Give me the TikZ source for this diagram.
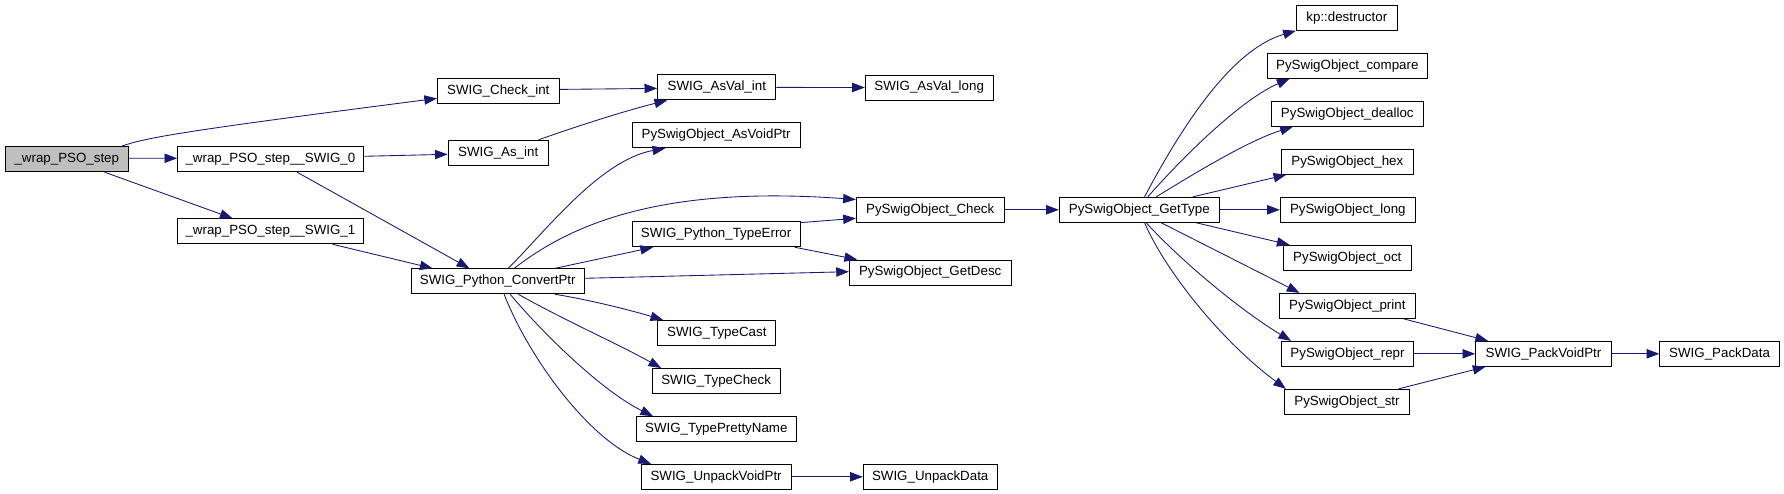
\documentclass[tikz,border=0pt]{standalone}
\usepackage{fontspec}
\setmainfont{Liberation Sans}
\usetikzlibrary{arrows.meta,calc}
\definecolor{edgeblue}{RGB}{25,25,112}
\definecolor{mainfill}{RGB}{191,191,191}
\tikzset{
  bx/.style={draw=black, line width=0.7pt, minimum height=18.75pt, inner sep=0pt, anchor=center, font=\fontsize{10pt}{12pt}\selectfont},
  bw/.style={minimum width=#1*0.75pt},
  edge/.style={draw=edgeblue, line width=0.65pt, -{Triangle[length=9.5pt,width=7pt]}, fill=none}
}
\begin{document}
\begin{tikzpicture}[x=0.75pt,y=-0.75pt]
\useasboundingbox (0,0) rectangle (1784,493);
% nodes
\node[bx,bw=122.8,fill=mainfill] (main) at (66.8,159.2) {\_wrap\_PSO\_step};
\node[bx,bw=185.5] (s0) at (270.4,159.3) {\_wrap\_PSO\_step\_\_SWIG\_0};
\node[bx,bw=185.5] (s1) at (270.4,231.3) {\_wrap\_PSO\_step\_\_SWIG\_1};
\node[bx,bw=121.7] (checkint) at (498.3,91.4) {SWIG\_Check\_int};
\node[bx,bw=100.2] (asint) at (498.2,152.8) {SWIG\_As\_int};
\node[bx,bw=118.3] (asvalint) at (716.8,87.4) {SWIG\_AsVal\_int};
\node[bx,bw=127.8] (asvallong) at (929.2,87.5) {SWIG\_AsVal\_long};
\node[bx,bw=167.8] (asvoidptr) at (716.1,135.3) {PySwigObject\_AsVoidPtr};
\node[bx,bw=147.8] (check) at (930.2,209.8) {PySwigObject\_Check};
\node[bx,bw=167.8] (typeerror) at (716.1,234.3) {SWIG\_Python\_TypeError};
\node[bx,bw=161.6] (getdesc) at (930.2,272.5) {PySwigObject\_GetDesc};
\node[bx,bw=172.7] (convertptr) at (497.8,281.3) {SWIG\_Python\_ConvertPtr};
\node[bx,bw=118.3] (typecast) at (716.8,333) {SWIG\_TypeCast};
\node[bx,bw=127.8] (typecheck) at (716.1,381) {SWIG\_TypeCheck};
\node[bx,bw=160] (prettyname) at (716.3,429.2) {SWIG\_TypePrettyName};
\node[bx,bw=149.8] (unpackvoidptr) at (716.1,476.8) {SWIG\_UnpackVoidPtr};
\node[bx,bw=133.8] (unpackdata) at (930.2,476.8) {SWIG\_UnpackData};
\node[bx,bw=160] (gettype) at (1139.3,209.8) {PySwigObject\_GetType};
\node[bx,bw=101] (destructor) at (1346.8,17.8) {kp::destructor};
\node[bx,bw=160] (compare) at (1347.3,65.8) {PySwigObject\_compare};
\node[bx,bw=152] (dealloc) at (1347.3,113.8) {PySwigObject\_dealloc};
\node[bx,bw=132] (hex) at (1347.3,161.8) {PySwigObject\_hex};
\node[bx,bw=135] (long) at (1347.8,209.8) {PySwigObject\_long};
\node[bx,bw=128] (oct) at (1347.3,257.8) {PySwigObject\_oct};
\node[bx,bw=135.3] (print) at (1347.3,305.8) {PySwigObject\_print};
\node[bx,bw=132] (repr) at (1347.5,353.8) {PySwigObject\_repr};
\node[bx,bw=125.3] (str) at (1347,401.8) {PySwigObject\_str};
\node[bx,bw=135.7] (packvoidptr) at (1543.5,353.8) {SWIG\_PackVoidPtr};
\node[bx,bw=119.6] (packdata) at (1719.6,353.8) {SWIG\_PackData};
% edges
\draw[edge] ($(main.north west)+(116.6,0)$) .. controls (145,138) and (175,132) .. ($(checkint.west)+(0,7)$);
\draw[edge] ($(main.east)+(0,-1)$) -- ($(s0.west)+(0,-1)$);
\draw[edge] ($(main.south west)+(99.6,0)$) -- ($(s1.north west)+(55.4,0)$);
\draw[edge] ($(s0.east)+(0,-3)$) -- ($(asint.west)+(0,1.5)$);
\draw[edge] ($(s0.south west)+(120,0)$) -- ($(convertptr.north west)+(58.4,0)$);
\draw[edge] ($(s1.south west)+(155.4,0)$) -- ($(convertptr.north west)+(21.6,0)$);
\draw[edge] ($(checkint.east)+(0,-2)$) -- ($(asvalint.west)+(0,1)$);
\draw[edge] ($(asint.north west)+(91,0)$) .. controls (560,132) and (620,112) .. ($(asvalint.south west)+(10,0)$);
\draw[edge] (asvalint.east) -- (asvallong.west);
\draw[edge] ($(convertptr.north west)+(97.2,0)$) .. controls (545,232) and (600,160) .. ($(asvoidptr.south west)+(33.5,0)$);
\draw[edge] ($(convertptr.north west)+(103.3,0)$) .. controls (570,225) and (660,185) .. ($(check.north west)+(0,2.7)$);
\draw[edge] ($(convertptr.north west)+(144,0)$) -- ($(typeerror.south west)+(21.3,0)$);
\draw[edge] ($(convertptr.east)+(0,-3)$) -- ($(getdesc.west)+(0,-0.8)$);
\draw[edge] ($(typeerror.north east)+(0,1.3)$) -- ($(check.west)+(0,8.5)$);
\draw[edge] ($(typeerror.south east)+(-5.7,0)$) -- ($(getdesc.north west)+(8.2,0)$);
\draw[edge] ($(convertptr.south west)+(144,0)$) .. controls (590,300) and (630,310) .. ($(typecast.north west)+(6,0)$);
\draw[edge] ($(convertptr.south west)+(107.4,0)$) .. controls (560,318) and (620,345) .. ($(typecheck.north west)+(9.4,0)$);
\draw[edge] ($(convertptr.south west)+(99.2,0)$) .. controls (540,330) and (600,390) .. ($(prettyname.north west)+(17.2,0)$);
\draw[edge] ($(convertptr.south west)+(93.1,0)$) .. controls (530,360) and (590,440) .. ($(unpackvoidptr.north west)+(10.2,0)$);
\draw[edge] (unpackvoidptr.east) -- (unpackdata.west);
\draw[edge] (check.east) -- (gettype.west);
\draw[edge] ($(gettype.north west)+(85.7,0)$) .. controls (1180,130) and (1230,50) .. (destructor.south west);
\draw[edge] ($(gettype.north west)+(89,0)$) .. controls (1180,160) and (1240,100) .. ($(compare.south west)+(22.7,0)$);
\draw[edge] ($(gettype.north west)+(97.4,0)$) .. controls (1200,170) and (1250,140) .. ($(dealloc.south west)+(22,0)$);
\draw[edge] ($(gettype.north west)+(134,0)$) -- ($(hex.south west)+(5.4,0)$);
\draw[edge] (gettype.east) -- (long.west);
\draw[edge] ($(gettype.south west)+(137.4,0)$) -- ($(oct.north west)+(6.7,0)$);
\draw[edge] ($(gettype.south west)+(102.4,0)$) -- ($(print.north west)+(20.3,0)$);
\draw[edge] ($(gettype.south west)+(87.4,0)$) .. controls (1180,260) and (1240,310) .. ($(repr.north west)+(10,0)$);
\draw[edge] ($(gettype.south west)+(85.7,0)$) .. controls (1165,270) and (1220,340) .. ($(str.north west)+(2,0)$);
\draw[edge] ($(print.south east)+(-12,0)$) -- ($(packvoidptr.north west)+(12.8,0)$);
\draw[edge] (repr.east) -- (packvoidptr.west);
\draw[edge] ($(str.north east)+(-11.4,0)$) -- ($(packvoidptr.south west)+(10.3,0)$);
\draw[edge] (packvoidptr.east) -- (packdata.west);
\end{tikzpicture}
\end{document}
